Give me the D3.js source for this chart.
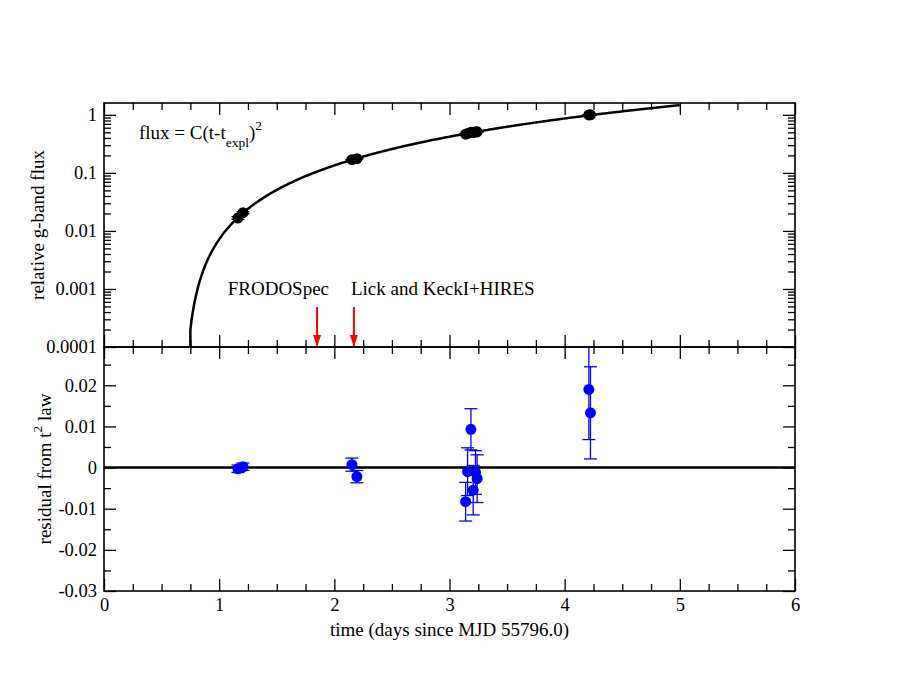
<!DOCTYPE html>
<html>
<head>
<meta charset="utf-8">
<script src="https://cdn.jsdelivr.net/npm/d3@7"></script>
<style>
  body { margin: 0; background: #ffffff; }
  text { font-family: "Liberation Serif", "Times New Roman", serif; fill: #000; }
</style>
</head>
<body>
<div id="chart"></div>
<script>
const obsTime  = [1.163, 1.207, 2.153, 2.196, 3.140, 3.157, 3.186, 3.206, 3.226, 3.240, 4.210, 4.224];
const obsFlux  = [0.0167, 0.0206, 0.1685, 0.1757, 0.4650, 0.4789, 0.5006, 0.4938, 0.5061, 0.5102, 0.9985, 1.0006];
const residual = [-0.0003, 0.0002, 0.0007, -0.0022, -0.0083, -0.0010, 0.0093, -0.0055, -0.0012, -0.0027, 0.0190, 0.0133];
const residErr = [0.0009, 0.0009, 0.0016, 0.0015, 0.0047, 0.0058, 0.0050, 0.0060, 0.0053, 0.0058, 0.0122, 0.0112];

// t^2 law fit
const fitC = 0.0795;
const tExpl = 0.70;
const fitStart = 0.75;
const fitEnd = 5.0;

// spectra epochs
const spectraNames = ["FRODOSpec", "Lick and KeckI+HIRES"];
const spectraTime = [1.85, 2.17];

// ticks
const xTicks = [0, 1, 2, 3, 4, 5, 6];
const fluxTicks = [0.0001, 0.001, 0.01, 0.1, 1];
const fluxTickLabels = ["0.0001", "0.001", "0.01", "0.1", "1"];
const residTicks = [-0.03, -0.02, -0.01, 0, 0.01, 0.02];
const residTickLabels = ["-0.03", "-0.02", "-0.01", "0", "0.01", "0.02"];

const width = 900, height = 695;
const plotLeft = 104, plotRight = 795, plotTop = 103, plotMid = 347, plotBottom = 591;

const svg = d3.select("#chart").append("svg")
    .attr("width", width)
    .attr("height", height);

const x = d3.scaleLinear().domain([0, 6]).range([plotLeft, plotRight]);
const yTop = d3.scaleLog().domain([1e-4, 1.6]).range([plotMid, plotTop]);
const yBot = d3.scaleLinear().domain([-0.03, 0.0293]).range([plotBottom, plotMid]);

const defs = svg.append("defs");
defs.append("clipPath").attr("id", "clipTop")
    .append("rect").attr("x", plotLeft).attr("y", plotTop).attr("width", plotRight - plotLeft).attr("height", plotMid - plotTop);
defs.append("clipPath").attr("id", "clipBot")
    .append("rect").attr("x", plotLeft).attr("y", plotMid).attr("width", plotRight - plotLeft).attr("height", plotBottom - plotMid);
defs.append("marker").attr("id", "arrow")
    .attr("viewBox", "0 0 12 8").attr("refX", 12).attr("refY", 4)
    .attr("markerWidth", 12).attr("markerHeight", 8)
    .attr("markerUnits", "userSpaceOnUse")
    .attr("orient", "auto")
  .append("path").attr("d", "M0,0L12,4L0,8z").attr("fill", "#ff0000");

// minor tick values
const xMinor = d3.range(0, 6.001, 0.25).filter(v => Math.abs(v - Math.round(v)) > 1e-6);
const fluxMinor = [];
for (let e = -4; e < 0; e++) {
    for (let m = 2; m <= 9; m++) fluxMinor.push(m * Math.pow(10, e));
}
const residMinor = [-0.025, -0.015, -0.005, 0.005, 0.015, 0.025];

function addAxis(axisFn, scale, translate, values, size, labels) {
    const ax = axisFn(scale).tickValues(values).tickSize(-size).tickPadding(7)
        .tickFormat(labels ? (d, i) => labels[i] : "");
    const g = svg.append("g").attr("transform", translate).call(ax);
    g.select(".domain").remove();
    g.selectAll(".tick line").attr("stroke", "#000").attr("stroke-width", 1.3);
    g.selectAll(".tick text")
        .style("font-family", "'Liberation Serif', 'Times New Roman', serif")
        .style("font-size", "18.5px")
        .attr("fill", "#000");
    return g;
}

// ---- top panel: flux ----
addAxis(d3.axisLeft, yTop, `translate(${plotLeft},0)`, fluxTicks, 12, fluxTickLabels);
addAxis(d3.axisLeft, yTop, `translate(${plotLeft},0)`, fluxMinor, 7);
addAxis(d3.axisRight, yTop, `translate(${plotRight},0)`, fluxTicks, 12);
addAxis(d3.axisRight, yTop, `translate(${plotRight},0)`, fluxMinor, 7);
addAxis(d3.axisTop, x, `translate(0,${plotTop})`, xTicks, 12);
addAxis(d3.axisTop, x, `translate(0,${plotTop})`, xMinor, 7);
addAxis(d3.axisBottom, x, `translate(0,${plotMid})`, xTicks, 12);
addAxis(d3.axisBottom, x, `translate(0,${plotMid})`, xMinor, 7);

const topPlot = svg.append("g").attr("clip-path", "url(#clipTop)");

const curveT = [fitStart].concat(d3.range(fitStart, fitEnd + 1e-6, 0.01));
const fitLine = d3.line()
    .x(t => x(t))
    .y((t, i) => i === 0 ? yTop(1e-4) : yTop(fitC * (t - tExpl) * (t - tExpl)));
topPlot.append("path")
    .attr("d", fitLine(curveT))
    .attr("fill", "none")
    .attr("stroke", "#000")
    .attr("stroke-width", 2.5);

const topErr = topPlot.selectAll(".terr").data(obsTime).enter().append("g");
topErr.append("line")
    .attr("x1", d => x(d)).attr("x2", d => x(d))
    .attr("y1", (d, i) => yTop(obsFlux[i] - residErr[i]))
    .attr("y2", (d, i) => yTop(obsFlux[i] + residErr[i]))
    .attr("stroke", "#000").attr("stroke-width", 1.3);
topErr.selectAll(".cap").data((d, i) => [obsFlux[i] - residErr[i], obsFlux[i] + residErr[i]].map(v => [d, v]))
    .enter().append("line")
    .attr("x1", d => x(d[0]) - 6.5).attr("x2", d => x(d[0]) + 6.5)
    .attr("y1", d => yTop(d[1])).attr("y2", d => yTop(d[1]))
    .attr("stroke", "#000").attr("stroke-width", 1.3);

topPlot.selectAll(".tpt").data(obsTime).enter().append("circle")
    .attr("cx", d => x(d))
    .attr("cy", (d, i) => yTop(obsFlux[i]))
    .attr("r", 5.5)
    .attr("fill", "#000");

// arrows marking spectra
spectraTime.forEach(function(t, i) {
    svg.append("line")
        .attr("x1", x(t)).attr("x2", x(t))
        .attr("y1", 307).attr("y2", plotMid)
        .attr("stroke", "#ff0000").attr("stroke-width", 2)
        .attr("marker-end", "url(#arrow)");
    svg.append("text")
        .attr("x", i === 0 ? x(t) + 12 : x(t) - 3)
        .attr("y", 295)
        .attr("text-anchor", i === 0 ? "end" : "start")
        .style("font-size", "19px")
        .text(spectraNames[i]);
});

// formula
const formula = svg.append("text").attr("x", 139).attr("y", 139).style("font-size", "19px");
formula.append("tspan").text("flux = C(t-t");
formula.append("tspan").attr("dy", 8).style("font-size", "13.5px").text("expl");
formula.append("tspan").attr("dy", -8).text(")");
formula.append("tspan").attr("dy", -9).style("font-size", "13.5px").text("2");

// ---- bottom panel: residuals ----
addAxis(d3.axisLeft, yBot, `translate(${plotLeft},0)`, residTicks, 12, residTickLabels);
addAxis(d3.axisLeft, yBot, `translate(${plotLeft},0)`, residMinor, 7);
addAxis(d3.axisRight, yBot, `translate(${plotRight},0)`, residTicks, 12);
addAxis(d3.axisRight, yBot, `translate(${plotRight},0)`, residMinor, 7);
addAxis(d3.axisTop, x, `translate(0,${plotMid})`, xTicks, 12);
addAxis(d3.axisTop, x, `translate(0,${plotMid})`, xMinor, 7);
addAxis(d3.axisBottom, x, `translate(0,${plotBottom})`, xTicks, 12, xTicks.map(String));
addAxis(d3.axisBottom, x, `translate(0,${plotBottom})`, xMinor, 7);

const botPlot = svg.append("g").attr("clip-path", "url(#clipBot)");

botPlot.append("line")
    .attr("x1", x(0)).attr("x2", x(6))
    .attr("y1", yBot(0)).attr("y2", yBot(0))
    .attr("stroke", "#000").attr("stroke-width", 2.5);

const botErr = botPlot.selectAll(".berr").data(obsTime).enter().append("g");
botErr.append("line")
    .attr("x1", d => x(d)).attr("x2", d => x(d))
    .attr("y1", (d, i) => yBot(residual[i] - residErr[i]))
    .attr("y2", (d, i) => yBot(residual[i] + residErr[i]))
    .attr("stroke", "#0000ff").attr("stroke-width", 1.3);
botErr.selectAll(".cap").data((d, i) => [residual[i] - residErr[i], residual[i] + residErr[i]].map(v => [d, v]))
    .enter().append("line")
    .attr("x1", d => x(d[0]) - 6.5).attr("x2", d => x(d[0]) + 6.5)
    .attr("y1", d => yBot(d[1])).attr("y2", d => yBot(d[1]))
    .attr("stroke", "#0000ff").attr("stroke-width", 1.3);

botPlot.selectAll(".bpt").data(obsTime).enter().append("circle")
    .attr("cx", d => x(d))
    .attr("cy", (d, i) => yBot(residual[i]))
    .attr("r", 5.5)
    .attr("fill", "#0000ff");

// frames
svg.append("rect").attr("x", plotLeft).attr("y", plotTop).attr("width", plotRight - plotLeft).attr("height", plotMid - plotTop)
    .attr("fill", "none").attr("stroke", "#000").attr("stroke-width", 1.6);
svg.append("rect").attr("x", plotLeft).attr("y", plotMid).attr("width", plotRight - plotLeft).attr("height", plotBottom - plotMid)
    .attr("fill", "none").attr("stroke", "#000").attr("stroke-width", 1.6);

// axis titles
svg.append("text")
    .attr("transform", `translate(44,${(plotTop + plotMid) / 2}) rotate(-90)`)
    .attr("text-anchor", "middle")
    .style("font-size", "19px")
    .text("relative g-band flux");

const rl = svg.append("text")
    .attr("transform", `translate(51,${(plotMid + plotBottom) / 2}) rotate(-90)`)
    .attr("text-anchor", "middle")
    .style("font-size", "19px");
rl.append("tspan").text("residual from t");
rl.append("tspan").attr("dy", -9).style("font-size", "13.5px").text("2");
rl.append("tspan").attr("dy", 9).text(" law");

svg.append("text")
    .attr("x", (plotLeft + plotRight) / 2)
    .attr("y", 636)
    .attr("text-anchor", "middle")
    .style("font-size", "19px")
    .text("time (days since MJD 55796.0)");
</script>
</body>
</html>
